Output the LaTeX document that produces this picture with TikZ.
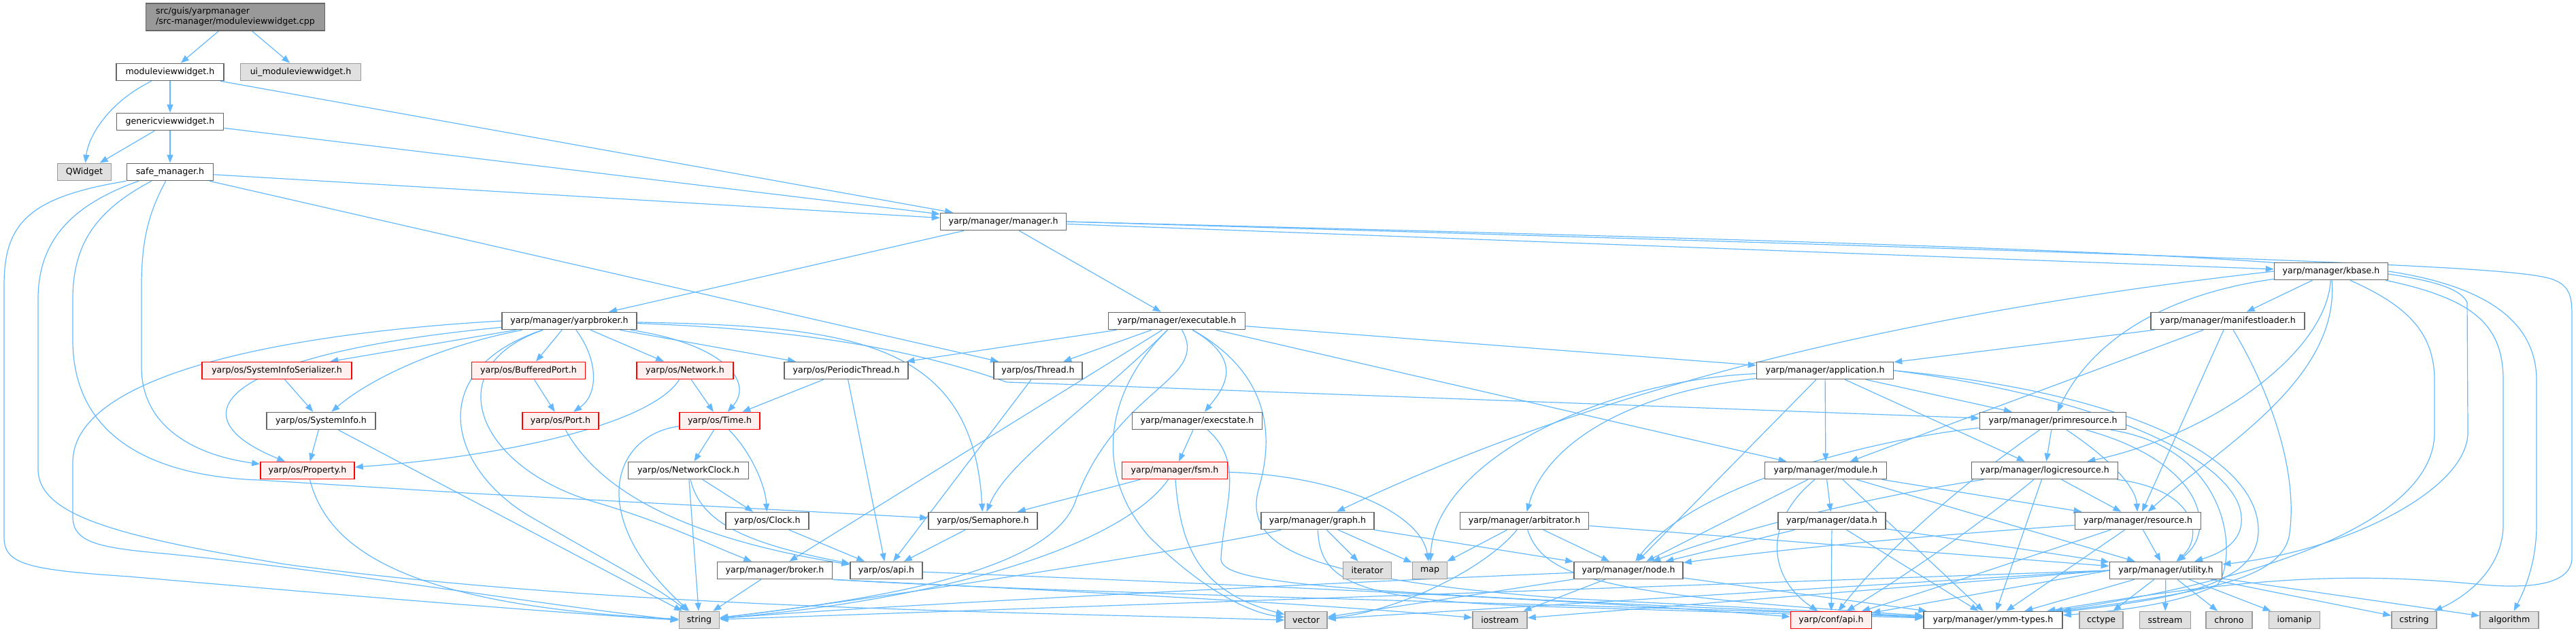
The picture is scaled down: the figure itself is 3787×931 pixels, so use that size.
\documentclass[tikz,border=0pt]{standalone}
\usepackage{fontspec}
\setmainfont{DejaVu Sans}
\usepackage{tikz}
\usetikzlibrary{arrows.meta, positioning, backgrounds}

\definecolor{edgeblue}{HTML}{63B8FF}
\definecolor{framegray}{HTML}{666666}
\definecolor{sysgray}{HTML}{999999}
\definecolor{sysfill}{HTML}{E0E0E0}
\definecolor{truncfill}{HTML}{FFF0F0}

\begin{document}
\begin{tikzpicture}[
        x=1pt, y=-1pt,
        hdr/.style={draw=framegray, line width=1.6pt, fill=white, rectangle, minimum height=25pt, inner sep=0pt, font=\fontsize{12.6}{14}\selectfont},
        sys/.style={hdr, draw=sysgray, fill=sysfill},
        trunc/.style={hdr, draw=red, fill=truncfill},
        src/.style={hdr, fill=sysgray, minimum height=40pt, align=left, font=\fontsize{12.6}{15}\selectfont},
        arrow/.style={edgeblue, line width=1.2pt, -{Triangle[length=12pt, width=9pt]}}
    ]
        \useasboundingbox (0,0) rectangle (3787,931);

        \node[src, minimum width=263pt] (cpp) at (346,25) {src/guis/yarpmanager\\/src-manager/moduleviewwidget.cpp};
        \node[hdr, minimum width=158pt] (mvw) at (250,106) {moduleviewwidget.h};
        \node[sys, minimum width=177pt] (uimvw) at (442,106) {ui\_moduleviewwidget.h};
        \node[hdr, minimum width=157pt] (gvw) at (250,179) {genericviewwidget.h};
        \node[sys, minimum width=79pt] (qwidget) at (124,253) {QWidget};
        \node[hdr, minimum width=127pt] (safemgr) at (250,253) {safe\_manager.h};
        \node[hdr, minimum width=185pt] (manager) at (1475,326) {yarp/manager/manager.h};
        \node[hdr, minimum width=167pt] (kbase) at (3427,399) {yarp/manager/kbase.h};

        \node[hdr, minimum width=198pt] (yarpbroker) at (837,472) {yarp/manager/yarpbroker.h};
        \node[hdr, minimum width=201pt] (executable) at (1730,472) {yarp/manager/executable.h};
        \node[hdr, minimum width=226pt] (manifest) at (3275,472) {yarp/manager/manifestloader.h};

        \node[trunc, minimum width=220pt] (sysser) at (407,545) {yarp/os/SystemInfoSerializer.h};
        \node[trunc, minimum width=167pt] (bufport) at (777,545) {yarp/os/BufferedPort.h};
        \node[trunc, minimum width=142pt] (network) at (1007,545) {yarp/os/Network.h};
        \node[hdr, minimum width=182pt] (pthread) at (1244,545) {yarp/os/PeriodicThread.h};
        \node[hdr, minimum width=130pt] (thread) at (1526,545) {yarp/os/Thread.h};
        \node[hdr, minimum width=201pt] (application) at (2683,545) {yarp/manager/application.h};

        \node[hdr, minimum width=160pt] (sysinfo) at (472,619) {yarp/os/SystemInfo.h};
        \node[trunc, minimum width=112pt] (port) at (824,619) {yarp/os/Port.h};
        \node[trunc, minimum width=118pt] (time) at (1058,619) {yarp/os/Time.h};
        \node[hdr, minimum width=191pt] (execstate) at (1760,619) {yarp/manager/execstate.h};
        \node[hdr, minimum width=215pt] (primres) at (3018,619) {yarp/manager/primresource.h};

        \node[trunc, minimum width=138pt] (property) at (452,692) {yarp/os/Property.h};
        \node[hdr, minimum width=177pt] (netclock) at (1012,692) {yarp/os/NetworkClock.h};
        \node[trunc, minimum width=155pt] (fsm) at (1727,692) {yarp/manager/fsm.h};
        \node[hdr, minimum width=179pt] (module) at (2684,692) {yarp/manager/module.h};
        \node[hdr, minimum width=215pt] (logicres) at (3006,692) {yarp/manager/logicresource.h};

        \node[hdr, minimum width=122pt] (clock) at (1128,766) {yarp/os/Clock.h};
        \node[hdr, minimum width=160pt] (semaphore) at (1445,766) {yarp/os/Semaphore.h};
        \node[hdr, minimum width=166pt] (graph) at (1937,766) {yarp/manager/graph.h};
        \node[hdr, minimum width=189pt] (arbitrator) at (2241,766) {yarp/manager/arbitrator.h};
        \node[hdr, minimum width=158pt] (data) at (2693,766) {yarp/manager/data.h};
        \node[hdr, minimum width=185pt] (resource) at (3143,766) {yarp/manager/resource.h};

        \node[hdr, minimum width=169pt] (broker) at (1139,839) {yarp/manager/broker.h};
        \node[hdr, minimum width=106pt] (osapi) at (1303,839) {yarp/os/api.h};
        \node[sys, minimum width=71pt] (iterator) at (2010,839) {iterator};
        \node[sys, minimum width=51pt] (map) at (2102,839) {map};
        \node[hdr, minimum width=160pt] (node) at (2394,839) {yarp/manager/node.h};
        \node[hdr, minimum width=165pt] (utility) at (3184,839) {yarp/manager/utility.h};

        \node[sys, minimum width=59pt] (string) at (1028,912) {string};
        \node[sys, minimum width=62pt] (vector) at (1920,912) {vector};
        \node[sys, minimum width=80pt] (iostream) at (2205,912) {iostream};
        \node[trunc, minimum width=119pt] (confapi) at (2692,912) {yarp/conf/api.h};
        \node[hdr, minimum width=204pt] (ymm) at (2930,912) {yarp/manager/ymm-types.h};
        \node[sys, minimum width=64pt] (cctype) at (3089,912) {cctype};
        \node[sys, minimum width=75pt] (sstream) at (3183,912) {sstream};
        \node[sys, minimum width=68pt] (chrono) at (3277,912) {chrono};
        \node[sys, minimum width=75pt] (iomanip) at (3373,912) {iomanip};
        \node[sys, minimum width=66pt] (cstring) at (3549,912) {cstring};
        \node[sys, minimum width=86pt] (algorithm) at (3689,912) {algorithm};

        \begin{scope}[on background layer]
        \draw[arrow] (cpp) -- (mvw);
        \draw[arrow] (cpp) -- (uimvw);
        \draw[arrow] (mvw) .. controls (160,150) and (130,200) .. (qwidget);
        \draw[arrow] (mvw) -- (gvw);
        \draw[arrow] (mvw) -- (manager);
        \draw[arrow] (gvw) -- (qwidget);
        \draw[arrow] (gvw) -- (safemgr);
        \draw[arrow] (gvw) -- (manager);

        \draw[arrow] (safemgr) -- (manager);
        \draw[arrow] (safemgr) -- (thread);
        \draw[arrow] (safemgr.south west) .. controls (40,290) and (6,330) .. (6,420) -- (6,790) .. controls (6,830) and (40,838) .. (190,848) .. controls (500,875) and (800,900) .. (string.west);
        \draw[arrow] ([xshift=18pt]safemgr.south west) .. controls (110,300) and (56,350) .. (56,440) -- (56,690) .. controls (56,760) and (180,790) .. (420,830) .. controls (900,895) and (1500,900) .. (vector.west);
        \draw[arrow] ([xshift=37pt]safemgr.south west) .. controls (140,310) and (107,360) .. (107,440) -- (107,500) .. controls (107,640) and (220,700) .. (380,706) -- (700,726) -- (semaphore);
        \draw[arrow] ([xshift=58pt]safemgr.south west) .. controls (220,310) and (208,350) .. (208,420) -- (208,540) .. controls (208,630) and (290,670) .. (property);

        \draw[arrow] (manager) -- (yarpbroker);
        \draw[arrow] (manager) -- (executable);
        \draw[arrow] (manager) -- (kbase);
        \draw[arrow] (manager.east) .. controls (3300,370) and (3600,385) .. (3627,445) -- (3628,636) .. controls (3628,720) and (3450,810) .. (utility);
        \draw[arrow] (manager.east) .. controls (3400,380) and (3690,392) .. (3750,410) .. controls (3781,420) and (3781,440) .. (3781,470) -- (3781,820) .. controls (3781,860) and (3720,866) .. (3650,860) .. controls (3450,840) and (3300,850) .. (ymm);

        \draw[arrow] (yarpbroker.west) .. controls (420,490) and (107,550) .. (107,680) -- (107,760) .. controls (107,800) and (150,806) .. (250,815) .. controls (500,840) and (800,890) .. (string.west);
        \draw[arrow] (yarpbroker) -- (sysser);
        \draw[arrow] (yarpbroker) .. controls (640,510) and (540,560) .. (sysinfo);
        \draw[arrow] (yarpbroker) .. controls (330,520) and (250,610) .. (property);
        \draw[arrow] (yarpbroker) -- (bufport);
        \draw[arrow] (yarpbroker) .. controls (880,530) and (880,580) .. (port);
        \draw[arrow] (yarpbroker) -- (network);
        \draw[arrow] (yarpbroker) .. controls (1060,505) and (1110,560) .. (time);
        \draw[arrow] (yarpbroker) -- (pthread);
        \draw[arrow] (yarpbroker) .. controls (1250,480) and (1430,500) .. (semaphore);
        \draw[arrow] (yarpbroker) .. controls (1200,485) and (1360,520) .. (1480,562) -- (primres);
        \draw[arrow] (yarpbroker) .. controls (640,540) and (700,690) .. (880,740) .. controls (980,770) and (1040,800) .. (broker);
        \draw[arrow] (yarpbroker) .. controls (620,545) and (660,690) .. (780,760) .. controls (900,830) and (960,860) .. (string);

        \draw[arrow] (executable) -- (pthread);
        \draw[arrow] (executable) -- (thread);
        \draw[arrow] (executable) -- (broker);
        \draw[arrow] (executable) .. controls (1600,600) and (1480,680) .. (semaphore);
        \draw[arrow] (executable) .. controls (1780,560) and (1640,570) .. (1580,740) .. controls (1540,840) and (1300,880) .. (string);
        \draw[arrow] (executable) .. controls (1830,530) and (1800,570) .. (execstate);
        \draw[arrow] (executable) .. controls (1620,580) and (1610,700) .. (1690,790) .. controls (1760,860) and (1830,900) .. (vector);
        \draw[arrow] (executable) -- (module);
        \draw[arrow] (executable) -- (application);
        \draw[arrow] (executable) .. controls (1850,540) and (1880,620) .. (1850,720) .. controls (1830,800) and (1900,850) .. (2300,880) -- (ymm);

        \draw[arrow] (execstate) -- (fsm);
        \draw[arrow] (execstate) .. controls (1830,680) and (1800,740) .. (1795,820) .. controls (1790,860) and (1950,870) .. (ymm);
        \draw[arrow] (fsm) -- (semaphore);
        \draw[arrow] (fsm) .. controls (1650,800) and (1400,880) .. (string);
        \draw[arrow] (fsm) .. controls (1735,800) and (1760,870) .. (vector);
        \draw[arrow] (fsm) .. controls (1980,700) and (2090,760) .. (map);

        \draw[arrow] (time) -- (netclock);
        \draw[arrow] (time) .. controls (1100,660) and (1125,710) .. (clock);
        \draw[arrow] (time) .. controls (900,640) and (860,760) .. (string);
        \draw[arrow] (network) -- (time);
        \draw[arrow] (network) .. controls (960,620) and (760,670) .. (property);
        \draw[arrow] (netclock) -- (clock);
        \draw[arrow] (netclock) -- (string);
        \draw[arrow] (netclock) .. controls (1030,770) and (1100,800) .. (osapi);
        \draw[arrow] (sysser) -- (sysinfo);
        \draw[arrow] (sysinfo) -- (property);
        \draw[arrow] (sysinfo) -- (string);
        \draw[arrow] (property) .. controls (480,800) and (580,890) .. (string);
        \draw[arrow] (bufport) -- (port);
        \draw[arrow] (port) .. controls (880,720) and (1000,790) .. (osapi);
        \draw[arrow] (pthread) -- (time);
        \draw[arrow] (pthread) -- (osapi);
        \draw[arrow] (thread) -- (osapi);
        \draw[arrow] (clock) -- (osapi);
        \draw[arrow] (semaphore) -- (osapi);
        \draw[arrow] (broker) -- (string);
        \draw[arrow] (broker.south east) .. controls (1500,866) and (1900,885) .. (iostream);
        \draw[arrow] (broker.south east) .. controls (1600,875) and (2400,890) .. (ymm);
        \draw[arrow] (osapi) .. controls (1700,855) and (2300,880) .. (confapi);

        \draw[arrow] (graph) -- (iterator);
        \draw[arrow] (graph) -- (map);
        \draw[arrow] (graph) -- (node);
        \draw[arrow] (graph) .. controls (1800,800) and (1300,880) .. (string);
        \draw[arrow] (graph) .. controls (1940,860) and (2000,885) .. (2300,893) -- (ymm);
        \draw[arrow] (arbitrator) -- (map);
        \draw[arrow] (arbitrator) -- (node);
        \draw[arrow] (arbitrator) .. controls (2180,840) and (2050,900) .. (vector);
        \draw[arrow] (arbitrator) -- (utility);
        \draw[arrow] (arbitrator) .. controls (2270,850) and (2350,875) .. (ymm);
        \draw[arrow] (node) .. controls (2200,870) and (2000,900) .. (vector);
        \draw[arrow] (node) -- (iostream);
        \draw[arrow] (node) -- (ymm);
        \draw[arrow] (node) .. controls (2000,855) and (1300,890) .. (string);
        \draw[arrow] (data) -- (node);
        \draw[arrow] (data) -- (confapi);
        \draw[arrow] (data) -- (ymm);
        \draw[arrow] (data) -- (utility);

        \draw[arrow] (module) -- (node);
        \draw[arrow] (module) -- (data);
        \draw[arrow] (module) .. controls (2590,770) and (2600,850) .. (confapi);
        \draw[arrow] ([xshift=25pt]module.south) -- (ymm);
        \draw[arrow] (module) -- (utility);
        \draw[arrow] (module) -- (resource);

        \draw[arrow] (application) -- (module);
        \draw[arrow] (application) -- (node);
        \draw[arrow] (application) -- (logicres);
        \draw[arrow] (application) -- (primres);
        \draw[arrow] (application) .. controls (2350,560) and (2110,680) .. (map);
        \draw[arrow] (application) .. controls (2380,580) and (2270,660) .. (arbitrator);
        \draw[arrow] (application.east) .. controls (3100,585) and (3290,680) .. (3295,760) .. controls (3298,800) and (3260,815) .. (utility);
        \draw[arrow] (application.east) .. controls (3150,580) and (3320,680) .. (3320,780) .. controls (3320,860) and (3200,880) .. (ymm);

        \draw[arrow] (manifest) -- (application);
        \draw[arrow] (manifest) -- (module);
        \draw[arrow] (manifest) -- (resource);
        \draw[arrow] (manifest) .. controls (3340,580) and (3380,700) .. (3365,790) .. controls (3350,850) and (3250,870) .. (ymm);

        \draw[arrow] (kbase) -- (manifest);
        \draw[arrow] (kbase.west) .. controls (2800,460) and (2350,570) .. (graph);
        \draw[arrow] (kbase) .. controls (3200,430) and (3080,490) .. (primres);
        \draw[arrow] (kbase) .. controls (3420,520) and (3250,640) .. (logicres);
        \draw[arrow] (kbase) .. controls (3440,560) and (3260,660) .. (resource);
        \draw[arrow] ([xshift=28pt]kbase.south) .. controls (3540,450) and (3579,490) .. (3579,560) -- (3579,636) .. controls (3579,760) and (3350,850) .. (ymm);
        \draw[arrow] ([xshift=-4pt]kbase.south east) .. controls (3640,440) and (3680,480) .. (3680,560) -- (3680,771) .. controls (3680,840) and (3620,880) .. (cstring);
        \draw[arrow] (kbase.east) .. controls (3650,420) and (3729,470) .. (3729,560) -- (3729,771) .. controls (3729,830) and (3710,870) .. (algorithm);

        \draw[arrow] (primres) -- (logicres);
        \draw[arrow] (primres) .. controls (3110,680) and (3140,720) .. (resource);
        \draw[arrow] (primres) .. controls (3240,680) and (3260,780) .. (utility);
        \draw[arrow] (primres) .. controls (3280,660) and (3290,820) .. (3260,860) .. controls (3200,890) and (3100,900) .. (ymm);
        \draw[arrow] (primres) .. controls (2800,640) and (2500,700) .. (node);
        \draw[arrow] (primres) .. controls (2900,700) and (2780,800) .. (confapi);
        \draw[arrow] (logicres) -- (resource);
        \draw[arrow] (logicres) .. controls (3230,720) and (3240,790) .. (utility);
        \draw[arrow] (logicres) .. controls (2900,780) and (2780,860) .. (confapi);
        \draw[arrow] (logicres) -- (ymm);
        \draw[arrow] (logicres) .. controls (2750,730) and (2550,780) .. (node);
        \draw[arrow] (resource) -- (utility);
        \draw[arrow] (resource) -- (ymm);
        \draw[arrow] (resource) .. controls (2950,830) and (2800,880) .. (confapi);
        \draw[arrow] (resource) .. controls (2800,790) and (2600,810) .. (node);

        \draw[arrow] (utility) -- (ymm);
        \draw[arrow] (utility) -- (cctype);
        \draw[arrow] (utility) -- (sstream);
        \draw[arrow] (utility) -- (chrono);
        \draw[arrow] (utility) -- (iomanip);
        \draw[arrow] (utility) -- (cstring);
        \draw[arrow] (utility) -- (algorithm);
        \draw[arrow] (utility.west) -- (string);
        \draw[arrow] (utility.west) -- (vector);
        \draw[arrow] (utility.west) -- (iostream);
        \draw[arrow] (utility.west) -- (confapi);
        \end{scope}
    \end{tikzpicture}
\end{document}
